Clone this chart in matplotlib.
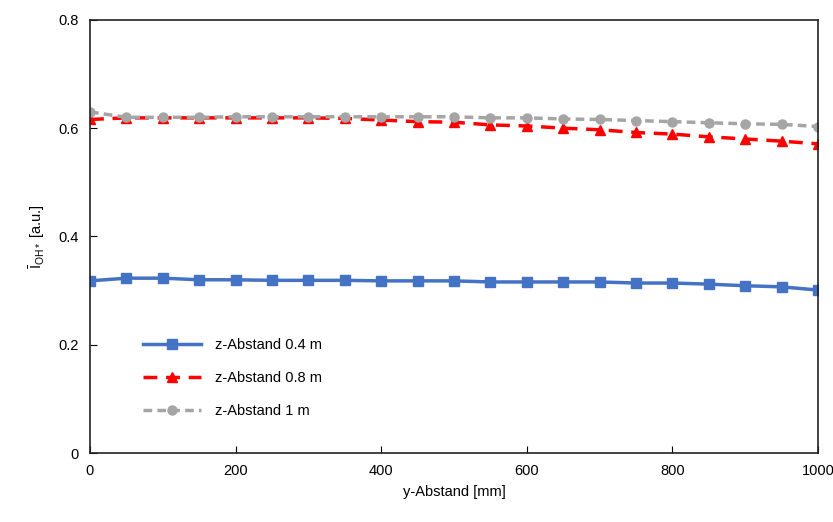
import matplotlib
matplotlib.use("Agg")
import matplotlib.pyplot as plt

plt.rcParams['font.family'] = ['Liberation Sans', 'DejaVu Sans']
plt.rcParams['mathtext.fontset'] = 'custom'
plt.rcParams['mathtext.rm'] = 'Liberation Sans'
plt.rcParams['mathtext.it'] = 'Liberation Sans'

y_mm = [0, 50, 100, 150, 200, 250, 300, 350, 400, 450, 500,
        550, 600, 650, 700, 750, 800, 850, 900, 950, 1000]
z04 = [0.318, 0.323, 0.323, 0.320, 0.320, 0.319, 0.319, 0.319, 0.318, 0.318, 0.318,
       0.316, 0.316, 0.316, 0.316, 0.314, 0.314, 0.312, 0.309, 0.307, 0.301]
z08 = [0.616, 0.619, 0.619, 0.619, 0.619, 0.619, 0.619, 0.618, 0.615, 0.612, 0.611,
       0.606, 0.604, 0.600, 0.597, 0.592, 0.589, 0.584, 0.580, 0.576, 0.571]
z1 = [0.630, 0.620, 0.620, 0.620, 0.621, 0.621, 0.621, 0.621, 0.621, 0.621, 0.621,
      0.619, 0.619, 0.617, 0.616, 0.614, 0.612, 0.610, 0.608, 0.607, 0.603]
labels = ['z-Abstand 0.4 m', 'z-Abstand 0.8 m', 'z-Abstand 1 m']

fig = plt.figure(figsize=(8.33, 5.22), dpi=100)
ax = fig.add_axes([0.108, 0.132, 0.874, 0.830])

ax.plot(y_mm, z04, color='#4472C4', lw=2.5, marker='s', ms=7, label=labels[0])
ax.plot(y_mm, z08, color='#FF0000', lw=2.5, ls=(0, (4, 2.5)), marker='^', ms=7, label=labels[1])
ax.plot(y_mm, z1, color='#A5A5A5', lw=2.5, ls=(0, (2.5, 1.5)), marker='o', ms=6.5, label=labels[2])

ax.set_xlim(0, 1000)
ax.set_ylim(0, 0.8)
ax.set_xticks([0, 200, 400, 600, 800, 1000])
ax.set_yticks([0, 0.2, 0.4, 0.6, 0.8])
ax.set_yticklabels(['0', '0.2', '0.4', '0.6', '0.8'])
ax.tick_params(direction='in', labelsize=10.5, length=5, pad=8)
for s in ax.spines.values():
    s.set_linewidth(1.2)
    s.set_color('#222222')

ax.set_xlabel('y-Abstand [mm]', fontsize=10.5, labelpad=5)
ax.set_ylabel(r'$\bar{\mathrm{I}}_{\mathrm{OH*}}$ [a.u.]', fontsize=10.5, labelpad=8)

ax.legend(loc='lower left', bbox_to_anchor=(0.055, 0.05), frameon=False, fontsize=10.5,
          handlelength=4.0, labelspacing=1.3, handletextpad=0.9)

fig.savefig('out.png', dpi=100)
